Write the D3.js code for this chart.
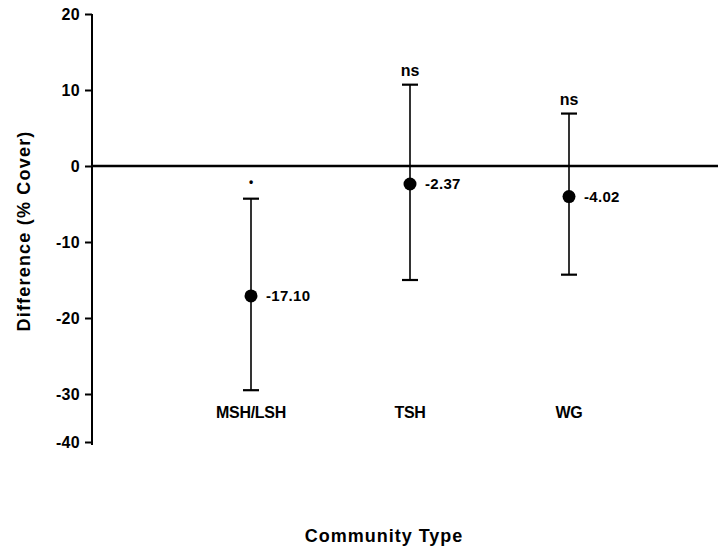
<!DOCTYPE html>
<html>
<head>
<meta charset="utf-8">
<script src="https://cdn.jsdelivr.net/npm/d3@7"></script>
<style>
  html, body { margin: 0; padding: 0; background: #fff; }
  text { font-family: "Liberation Sans", Arial, sans-serif; fill: #000; }
</style>
</head>
<body>
<svg id="chart" width="718" height="557"></svg>
<script>
// Community types and mean differences with confidence limits
const categories = ["MSH/LSH", "TSH", "WG"];
const means = [-17.10, -2.37, -4.02];
const upper = [-4.3, 10.7, 6.9];
const lower = [-29.5, -15.0, -14.3];
const signif = ["•", "ns", "ns"];
const yTicks = [20, 10, 0, -10, -20, -30, -40];

const svg = d3.select("#chart");
const hyphen = s => String(s).replace("\u2212", "-");

const x = d3.scalePoint()
  .domain(categories)
  .range([251, 569]);

// y axis: the bottom segment of the axis is compressed
const y = d3.scaleLinear()
  .domain([-40, -30, 20])
  .range([442, 394, 14]);

// y axis
const yAxis = d3.axisLeft(y)
  .tickValues(yTicks)
  .tickFormat(d => hyphen(d3.format("d")(d)))
  .tickSize(7)
  .tickPadding(5);

const gy = svg.append("g")
  .attr("transform", "translate(92,0)")
  .call(yAxis);
gy.select(".domain").attr("stroke", "#000").attr("stroke-width", 2)
  .attr("d", `M0,${y(20)}V${y(-40) + 3}`);
gy.selectAll(".tick line").attr("stroke", "#000").attr("stroke-width", 2);
gy.selectAll(".tick text")
  .style("font-size", "16px").style("font-weight", "bold")
  .style("letter-spacing", "0.3px")
  .attr("fill", "#000");

// zero reference line
svg.append("line")
  .attr("x1", 92).attr("x2", 718)
  .attr("y1", y(0)).attr("y2", y(0))
  .attr("stroke", "#000").attr("stroke-width", 2.5);

const g = svg.append("g");
const capW = 8;

categories.forEach((c, i) => {
  const cx = x(c);
  // error bar
  g.append("line")
    .attr("x1", cx).attr("x2", cx)
    .attr("y1", y(upper[i])).attr("y2", y(lower[i]))
    .attr("stroke", "#000").attr("stroke-width", 1.6);
  [upper[i], lower[i]].forEach(v => {
    g.append("line")
      .attr("x1", cx - capW).attr("x2", cx + capW)
      .attr("y1", y(v)).attr("y2", y(v))
      .attr("stroke", "#000").attr("stroke-width", 2.2);
  });
  // mean point
  g.append("circle")
    .attr("cx", cx).attr("cy", y(means[i]))
    .attr("r", 6.5).attr("fill", "#000");
  // value label
  g.append("text")
    .attr("x", cx + 15).attr("y", y(means[i]))
    .attr("dy", "0.35em")
    .style("font-size", "15px").style("font-weight", "bold")
    .style("letter-spacing", "0.3px")
    .text(hyphen(d3.format(".2f")(means[i])));
  // significance label
  g.append("text")
    .attr("x", cx).attr("y", signif[i] === "ns" ? y(upper[i]) - 9 : y(upper[i]) - 13)
    .attr("text-anchor", "middle")
    .style("font-size", signif[i] === "ns" ? "16px" : "12px")
    .style("font-weight", "bold")
    .text(signif[i]);
  // category label
  g.append("text")
    .attr("x", cx).attr("y", 412)
    .attr("dy", "0.35em")
    .attr("text-anchor", "middle")
    .style("font-size", "16px").style("font-weight", "bold")
    .style("letter-spacing", "-0.3px")
    .text(c);
});

// axis titles
svg.append("text")
  .attr("x", 384).attr("y", 536)
  .attr("dy", "0.35em")
  .attr("text-anchor", "middle")
  .style("font-size", "18px").style("font-weight", "bold")
  .style("letter-spacing", "1px")
  .text("Community Type");

svg.append("text")
  .attr("transform", "translate(24,231) rotate(-90)")
  .attr("dy", "0.35em")
  .attr("text-anchor", "middle")
  .style("font-size", "18px").style("font-weight", "bold")
  .style("letter-spacing", "1.2px")
  .text("Difference (% Cover)");
</script>
</body>
</html>
